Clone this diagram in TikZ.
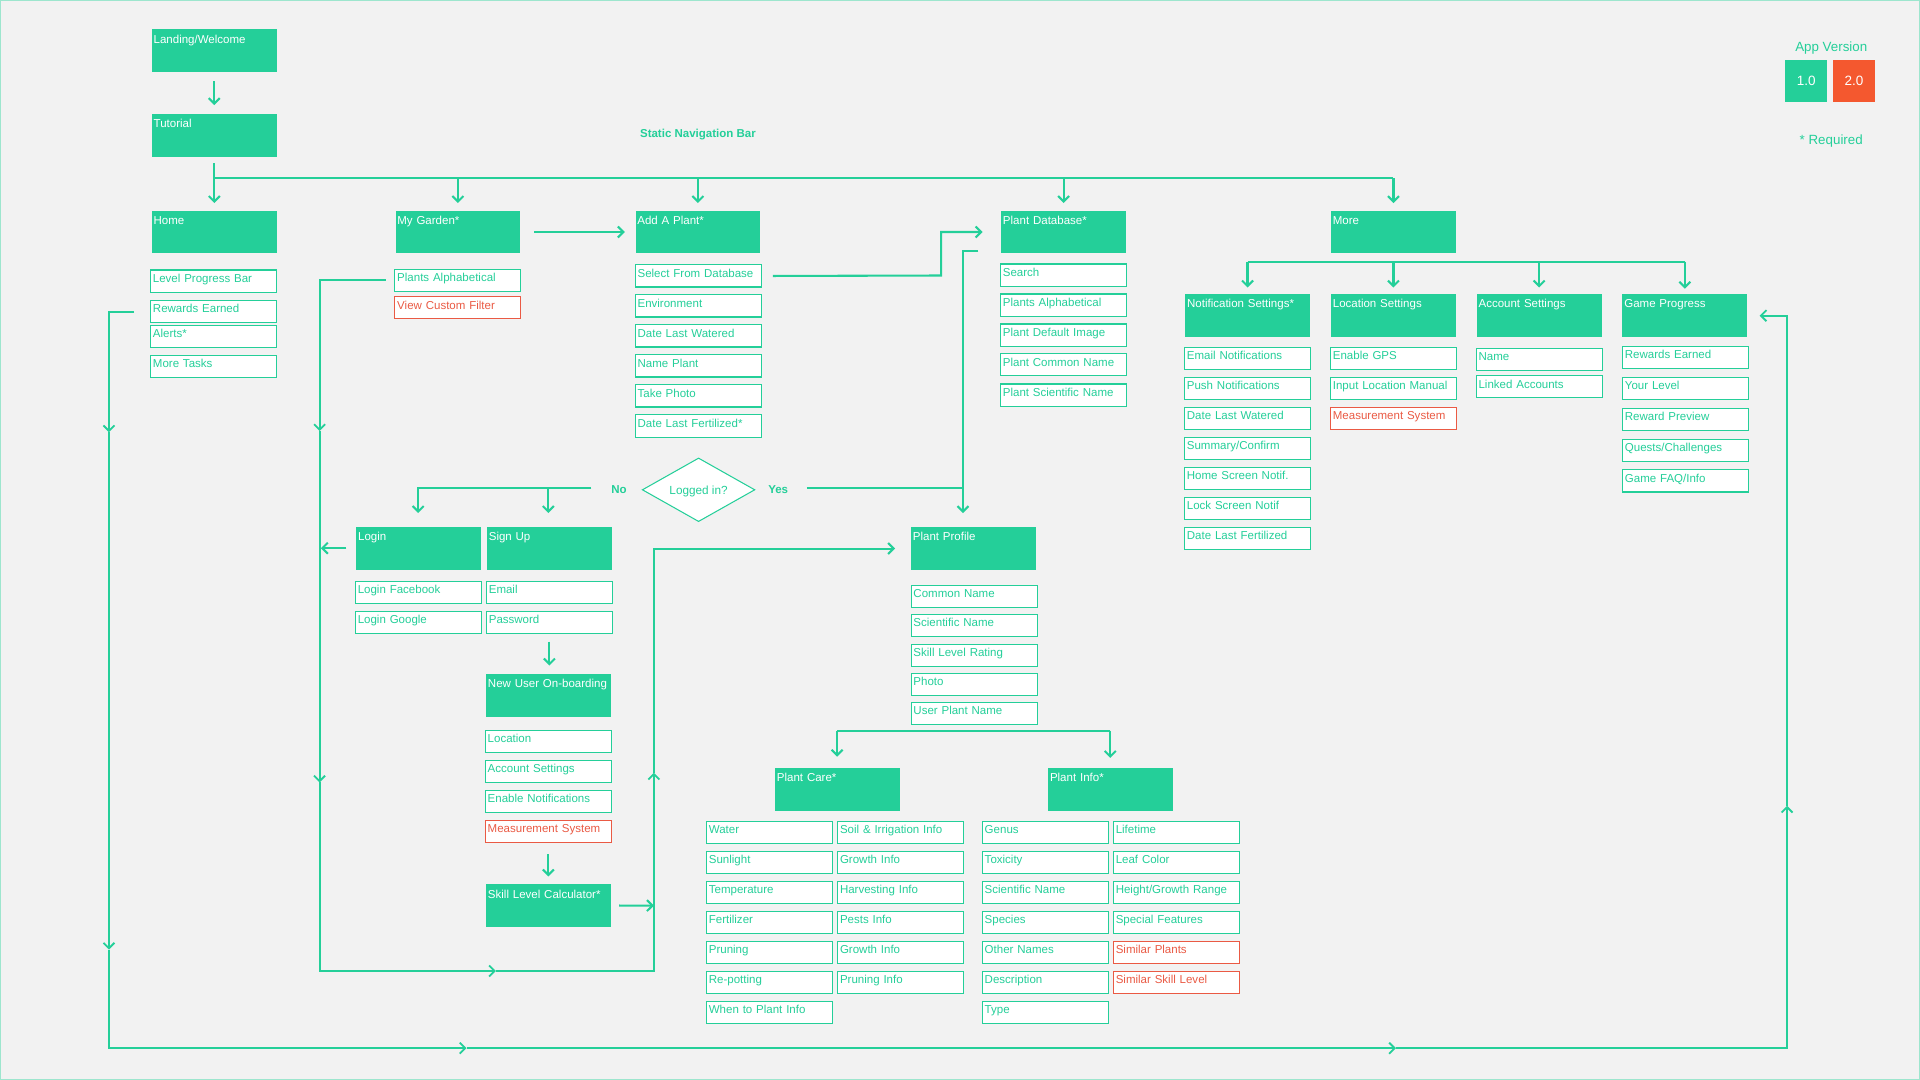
\documentclass[tikz,border=0pt]{standalone}
\usepackage{fontspec}
\setmainfont{Liberation Sans}
\usetikzlibrary{arrows.meta,shapes.geometric}
\definecolor{mint}{HTML}{24CF99}
\definecolor{paper}{HTML}{F2F2F2}
\definecolor{edge}{HTML}{9DE6CE}
\definecolor{coral}{HTML}{F4582F}
\definecolor{coralline}{HTML}{EA5A44}
\tikzset{
  header/.style={rectangle, fill=mint, text=white, font=\fontsize{9.4}{12}\selectfont, minimum width=102pt, text width=99pt, align=left, inner xsep=1.5pt, inner ysep=2pt, text height=9.5pt, text depth=21.5pt},
  itembox/.style={draw=mint, line width=0.85pt, rectangle, fill=white, text=mint, font=\fontsize{9.4}{12}\selectfont, text width=99pt, align=left, inner sep=2pt, text height=8pt, text depth=6pt},
  itemred/.style={itembox, draw=coralline, text=coralline},
  flow/.style={draw=mint, line width=1.7pt},
  flowmid/.style={draw=mint, line width=1.5pt},
  tag/.style={text=mint, font=\fontsize{9.4}{12}\selectfont\bfseries},
  note/.style={text=mint, font=\fontsize{10.9}{12}\selectfont},
  version/.style={rectangle, text=white, minimum width=34pt, minimum height=34pt, inner sep=0pt, font=\fontsize{11}{12}\selectfont}
}
\begin{document}
\begin{tikzpicture}[>={Straight Barb[length=4.5pt,width=9pt]}, x=1pt, y=-1pt]
\useasboundingbox (0,0) rectangle (1568,882);
\draw[fill=paper, draw=edge, line width=1.5pt] (0,0) rectangle (1568,882);

\node[header] (land) at (175,41.5) {Landing/Welcome};
\node[header] (tut) at (175,110.5) {Tutorial};
\node[header] (home) at (175,189.5) {Home};
\node[header] (garden) at (374,189.5) {My Garden*};
\node[header] (addp) at (570,189.5) {Add A Plant*};
\node[header] (db) at (868.6,189.5) {Plant Database*};
\node[header] (more) at (1138,189.5) {More};
\node[header] (nset) at (1019,257.5) {Notification Settings*};
\node[header] (lset) at (1138,257.5) {Location Settings};
\node[header] (aset) at (1257,257.5) {Account Settings};
\node[header] (gprog) at (1376,257.5) {Game Progress};
\node[header] (login) at (342,447.7) {Login};
\node[header] (signup) at (448.7,447.7) {Sign Up};
\node[header] (newuser) at (448,567.7) {New User On-boarding};
\node[header] (skill) at (448,739.5) {Skill Level Calculator*};
\node[header] (profile) at (795,447.7) {Plant Profile};
\node[header] (care) at (684,644.5) {Plant Care*};
\node[header] (info) at (907,644.5) {Plant Info*};

\node[itembox] (hlevel) at (174.4,229.5) {Level Progress Bar};
\node[itembox] (hreward) at (174.4,254.5) {Rewards Earned};
\node[itembox] (halert) at (174.4,274.5) {Alerts*};
\node[itembox] (htask) at (174.4,299) {More Tasks};

\node[itembox] (galpha) at (373.9,229) {Plants Alphabetical};
\node[itemred] (gfilter) at (373.9,251.5) {View Custom Filter};

\node[itembox] (aselect) at (570.2,225.4) {Select From Database};
\node[itembox] (aenv) at (570.2,249.9) {Environment};
\node[itembox] (awater) at (570.2,274.4) {Date Last Watered};
\node[itembox] (aname) at (570.2,298.9) {Name Plant};
\node[itembox] (aphoto) at (570.2,323.4) {Take Photo};
\node[itembox] (afert) at (570.2,347.9) {Date Last Fertilized*};

\node[itembox] (dsearch) at (868.5,224.6) {Search};
\node[itembox] (dalpha) at (868.5,249.1) {Plants Alphabetical};
\node[itembox] (dimage) at (868.5,273.6) {Plant Default Image};
\node[itembox] (dcommon) at (868.5,298) {Plant Common Name};
\node[itembox] (dsci) at (868.5,322.6) {Plant Scientific Name};

\node[itembox] (nemail) at (1018.8,292.5) {Email Notifications};
\node[itembox] (npush) at (1018.8,317.3) {Push Notifications};
\node[itembox] (nwater) at (1018.8,341.7) {Date Last Watered};
\node[itembox] (nsum) at (1018.8,366.3) {Summary/Confirm};
\node[itembox] (nhome) at (1018.8,390.8) {Home Screen Notif.};
\node[itembox] (nlock) at (1018.8,415.3) {Lock Screen Notif};
\node[itembox] (nfert) at (1018.8,439.8) {Date Last Fertilized};

\node[itembox] (lgps) at (1138,292.5) {Enable GPS};
\node[itembox] (lmanual) at (1138,317.3) {Input Location Manual};
\node[itemred] (lmeasure) at (1138,341.7) {Measurement System};

\node[itembox] (acname) at (1257,293.5) {Name};
\node[itembox] (aclinked) at (1257,316) {Linked Accounts};

\node[itembox] (greward) at (1376.5,291.8) {Rewards Earned};
\node[itembox] (glevel) at (1376.5,317.3) {Your Level};
\node[itembox] (gpreview) at (1376.5,342.5) {Reward Preview};
\node[itembox] (gquest) at (1376.5,367.8) {Quests/Challenges};
\node[itembox] (gfaq) at (1376.5,392.8) {Game FAQ/Info};

\node[itembox] (lface) at (341.7,483.5) {Login Facebook};
\node[itembox] (lgoogle) at (341.7,508) {Login Google};
\node[itembox] (semail) at (448.7,483.5) {Email};
\node[itembox] (spass) at (448.7,508) {Password};

\node[itembox] (oloc) at (447.8,605.7) {Location};
\node[itembox] (oacc) at (447.8,630.2) {Account Settings};
\node[itembox] (onotif) at (447.8,654.7) {Enable Notifications};
\node[itemred] (omeasure) at (447.8,679.2) {Measurement System};

\node[itembox] (pcommon) at (795.5,487) {Common Name};
\node[itembox] (psci) at (795.5,511) {Scientific Name};
\node[itembox] (pskill) at (795.5,535) {Skill Level Rating};
\node[itembox] (pphoto) at (795.5,559) {Photo};
\node[itembox] (puser) at (795.5,582.8) {User Plant Name};

\node[itembox] (cwater) at (628.4,679.5) {Water};
\node[itembox] (csun) at (628.4,704) {Sunlight};
\node[itembox] (ctemp) at (628.4,728.5) {Temperature};
\node[itembox] (cfert) at (628.4,753) {Fertilizer};
\node[itembox] (cprune) at (628.4,777.5) {Pruning};
\node[itembox] (crepot) at (628.4,802) {Re-potting};
\node[itembox] (cwhen) at (628.4,826.5) {When to Plant Info};
\node[itembox] (csoil) at (735.5,679.5) {Soil \& Irrigation Info};
\node[itembox] (cgrow) at (735.5,704) {Growth Info};
\node[itembox] (charv) at (735.5,728.5) {Harvesting Info};
\node[itembox] (cpest) at (735.5,753) {Pests Info};
\node[itembox] (cgrowb) at (735.5,777.5) {Growth Info};
\node[itembox] (cpinfo) at (735.5,802) {Pruning Info};

\node[itembox] (igenus) at (853.7,679.5) {Genus};
\node[itembox] (itox) at (853.7,704) {Toxicity};
\node[itembox] (isci) at (853.7,728.5) {Scientific Name};
\node[itembox] (ispec) at (853.7,753) {Species};
\node[itembox] (iother) at (853.7,777.5) {Other Names};
\node[itembox] (idesc) at (853.7,802) {Description};
\node[itembox] (itype) at (853.7,826.5) {Type};
\node[itembox] (ilife) at (960.7,679.5) {Lifetime};
\node[itembox] (ileaf) at (960.7,704) {Leaf Color};
\node[itembox] (iheight) at (960.7,728.5) {Height/Growth Range};
\node[itembox] (ifeat) at (960.7,753) {Special Features};
\node[itemred] (isim) at (960.7,777.5) {Similar Plants};
\node[itemred] (isimskill) at (960.7,802) {Similar Skill Level};

\node[diamond, aspect=1.77, draw=mint, line width=0.85pt, fill=white, text=mint, inner sep=0pt, minimum width=92pt, minimum height=52pt, text height=7pt, text depth=0pt, font=\fontsize{9.6}{12}\selectfont] (logged) at (570.5,400) {Logged in?};
\node[tag] (no) at (505.5,399.5) {No};
\node[tag] (yes) at (635.5,399.5) {Yes};
\node[tag] (navbar) at (570,109.5) {Static Navigation Bar};
\node[note] (appver) at (1495.5,39.5) {App Version};
\node[version, fill=mint] (verone) at (1475,66) {1.0};
\node[version, fill=coral] (vertwo) at (1514,66) {2.0};
\node[note] (req) at (1495.5,115.5) {* Required};

\coordinate (navA) at (174.6,145.6);
\coordinate (navB) at (1138,145.6);
\coordinate (moreA) at (1018.8,213.7);
\coordinate (moreB) at (1376,213.7);
\coordinate (dbA) at (768.6,225);
\coordinate (dbB) at (768.6,189.5);
\coordinate (sideA) at (799,204.7);
\coordinate (sideB) at (786.4,204.7);
\coordinate (sideC) at (786.4,419);
\coordinate (yesA) at (659,398.5);
\coordinate (yesB) at (786.4,398.5);
\coordinate (noA) at (483,398.5);
\coordinate (noB) at (341.5,398.5);
\coordinate (noC) at (341.5,419);
\coordinate (noD) at (447.8,398.5);
\coordinate (noE) at (447.8,419);
\coordinate (careA) at (683.6,596.7);
\coordinate (careB) at (683.6,618);
\coordinate (infoA) at (906.7,596.7);
\coordinate (infoB) at (906.7,619);

\coordinate (gardB) at (261,229);
\coordinate (gardC) at (261,352);
\coordinate (gardD) at (261,639);
\coordinate (gardE) at (261,793);
\coordinate (gardF) at (405,793);
\coordinate (gardG) at (534,793);
\coordinate (gardH) at (534,631);
\coordinate (gardI) at (534,448);
\coordinate (gardJ) at (731,448);
\coordinate (loginA) at (262,447.7);
\coordinate (skillA) at (534,739.6);

\coordinate (homeB) at (89,254.5);
\coordinate (homeC) at (89,353);
\coordinate (homeD) at (89,775.5);
\coordinate (homeE) at (89,856);
\coordinate (homeF) at (381,856);
\coordinate (homeG) at (1140,856);
\coordinate (homeH) at (1459.4,856);
\coordinate (homeI) at (1459.4,658);
\coordinate (homeJ) at (1459.4,257.8);
\coordinate (homeK) at (1437,257.8);

\draw[flow, ->, shorten <=7pt, shorten >=7pt] (land) -- (tut);
\draw[flow, ->, shorten <=5pt, shorten >=6pt] (tut) -- (home);
\draw[flow] (navA) -- (navB);
\draw[flow, ->, shorten >=6pt] (garden.north |- navA) -- (garden.north);
\draw[flow, ->, shorten >=6pt] (addp.north |- navA) -- (addp.north);
\draw[flow, ->, shorten >=6pt] (db.north |- navA) -- (db.north);
\draw[flow, ->, shorten >=6pt] (navB) -- (more.north);
\draw[flow, ->, shorten <=11pt, shorten >=8.5pt] (garden) -- (addp);
\draw[flow, ->, shorten <=9pt, shorten >=15pt] (aselect.east) -- (dbA) -- (dbB) -- (db.west);
\draw[flow, ->] (sideA) -- (sideB) -- (sideC);
\draw[flow] (yesA) -- (yesB);
\draw[flow, ->] (noA) -- (noB) -- (noC);
\draw[flow, ->] (noD) -- (noE);

\draw[flow] (moreA) -- (moreB);
\draw[flow, ->, shorten >=5pt] (moreA) -- (moreA |- nset.north);
\draw[flow, ->, shorten >=5pt] (lset.north |- moreA) -- (lset.north);
\draw[flow, ->, shorten >=5pt] (aset.north |- moreA) -- (aset.north);
\draw[flow, ->, shorten >=4pt] (moreB) -- (gprog.north);

\draw[flow, ->, shorten <=6.5pt, shorten >=6.5pt] (spass.south) -- (spass.south |- newuser.north);
\draw[flow, ->, shorten <=9pt, shorten >=6pt] (omeasure.south) -- (omeasure.south |- skill.north);
\draw[flow, ->, shorten <=6.5pt] (skill.east) -- (skillA);
\draw[flow, ->, shorten <=8pt] (login.west) -- (loginA);

\draw[flow] (careA) -- (infoA);
\draw[flow, ->] (careA) -- (careB);
\draw[flow, ->] (infoA) -- (infoB);

\draw[flowmid, ->, shorten <=7pt] (galpha.west) -- (gardB) -- (gardC);
\draw[flowmid, ->] (gardC) -- (gardD);
\draw[flowmid, ->] (gardD) -- (gardE) -- (gardF);
\draw[flowmid, ->] (gardF) -- (gardG) -- (gardH);
\draw[flow, ->] (gardH) -- (gardI) -- (gardJ);

\draw[flowmid, ->, shorten <=13pt] (hreward.west) -- (homeB) -- (homeC);
\draw[flowmid, ->] (homeC) -- (homeD);
\draw[flowmid, ->] (homeD) -- (homeE) -- (homeF);
\draw[flowmid, ->] (homeF) -- (homeG);
\draw[flowmid, ->] (homeG) -- (homeH) -- (homeI);
\draw[flowmid, ->] (homeI) -- (homeJ) -- (homeK);
\end{tikzpicture}
\end{document}
